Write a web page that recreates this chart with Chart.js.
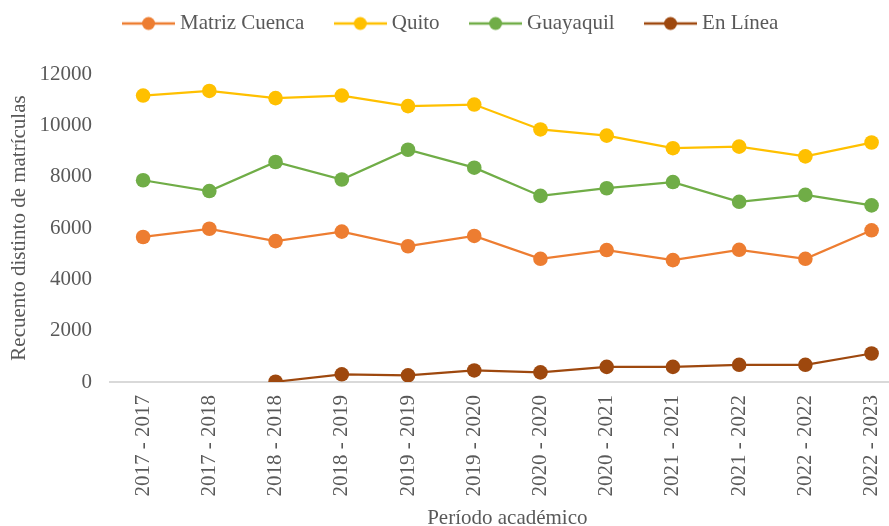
<!DOCTYPE html>
<html>
<head>
<meta charset="utf-8">
<script src="https://cdn.jsdelivr.net/npm/chart.js@4"></script>
<style>
  html, body { margin: 0; padding: 0; overflow: hidden; background: #fff; }
  #wrap { width: 912px; height: 526px; }
</style>
</head>
<body>
<div id="wrap"><canvas id="matriculasChart" width="912" height="526"></canvas></div>
<script>
// periodos academicos (eje x)
var periodos = ['2017 - 2017', '2017 - 2018', '2018 - 2018', '2018 - 2019', '2019 - 2019', '2019 - 2020',
                '2020 - 2020', '2020 - 2021', '2021 - 2021', '2021 - 2022', '2022 - 2022', '2022 - 2023'];

var matrizCuenca = [5650, 5970, 5490, 5860, 5290, 5690, 4800, 5140, 4750, 5150, 4800, 5910];
var quito        = [11160, 11340, 11060, 11160, 10750, 10810, 9840, 9600, 9110, 9170, 8790, 9330];
var guayaquil    = [7860, 7440, 8570, 7890, 9050, 8350, 7250, 7550, 7790, 7020, 7290, 6880];
var enLinea      = [null, null, 10, 300, 260, 450, 375, 590, 590, 670, 670, 1110];

var yTicks = [0, 2000, 4000, 6000, 8000, 10000, 12000];

var fuente = "'Liberation Serif', 'Times New Roman', serif";
var gris = '#595959';

// icono de leyenda: linea con circulo al centro
function iconoLeyenda(color) {
    var c = document.createElement('canvas');
    c.width = 53; c.height = 16;
    var g = c.getContext('2d');
    g.strokeStyle = color;
    g.lineWidth = 2.5;
    g.beginPath(); g.moveTo(0, 8); g.lineTo(53, 8); g.stroke();
    g.fillStyle = color;
    g.beginPath(); g.arc(26.5, 8, 6.5, 0, Math.PI * 2); g.fill();
    return c;
}

function serie(nombre, datos, color) {
    return {
        label: nombre,
        data: datos,
        borderColor: color,
        backgroundColor: color,
        borderWidth: 2.25,
        pointRadius: 7.3,
        pointHoverRadius: 7.3,
        pointBorderWidth: 0,
        pointStyle: 'circle',
        tension: 0,
        spanGaps: false
    };
}

// alto fijo para la leyenda, deja el espacio hasta el area del grafico
var altoLeyenda = {
    id: 'altoLeyenda',
    beforeInit: function(chart) {
        var fitOrig = chart.legend.fit;
        chart.legend.fit = function() {
            fitOrig.bind(chart.legend)();
            this.height = 96;
        };
    }
};

document.addEventListener('DOMContentLoaded', function() {
    var ctx = document.getElementById('matriculasChart').getContext('2d');
    var chart = new Chart(ctx, {
        type: 'line',
        data: {
            labels: periodos,
            datasets: [
                serie('Matriz Cuenca', matrizCuenca, '#ED7D31'),
                serie('Quito', quito, '#FFC000'),
                serie('Guayaquil', guayaquil, '#70AD47'),
                serie('En Línea', enLinea, '#9E480E')
            ]
        },
        plugins: [altoLeyenda],
        options: {
            responsive: false,
            animation: false,
            layout: { padding: { top: -22, right: 6, left: 0, bottom: 0 } },
            plugins: {
                legend: {
                    position: 'top',
                    labels: {
                        usePointStyle: true,
                        pointStyleWidth: 42,
                        color: gris,
                        font: { family: fuente, size: 21 },
                        padding: 35,
                        generateLabels: function(ch) {
                            return ch.data.datasets.map(function(ds, i) {
                                return {
                                    text: ds.label,
                                    fillStyle: ds.borderColor,
                                    strokeStyle: ds.borderColor,
                                    lineWidth: 0,
                                    pointStyle: iconoLeyenda(ds.borderColor),
                                    fontColor: gris,
                                    datasetIndex: i,
                                    hidden: false
                                };
                            });
                        }
                    }
                },
                tooltip: { enabled: false }
            },
            scales: {
                x: {
                    offset: true,
                    grid: { display: false, drawTicks: false },
                    border: { display: true, color: '#d9d9d9', width: 2 },
                    ticks: {
                        color: gris,
                        font: { family: fuente, size: 21 },
                        minRotation: 90,
                        maxRotation: 90,
                        padding: 13,
                        autoSkip: false
                    },
                    title: {
                        display: true,
                        text: 'Período académico',
                        color: gris,
                        font: { family: fuente, size: 21 },
                        padding: { top: 0, bottom: -5 }
                    },
                    afterFit: function(scale) { scale.height = 144; }
                },
                y: {
                    min: 0,
                    max: 12000,
                    grid: { display: false, drawTicks: false },
                    border: { display: false },
                    afterBuildTicks: function(scale) {
                        scale.ticks = yTicks.map(function(v) { return { value: v }; });
                    },
                    ticks: {
                        color: gris,
                        font: { family: fuente, size: 21 },
                        padding: 18,
                        callback: function(v) { return String(v); }
                    },
                    title: {
                        display: true,
                        text: 'Recuento distinto de matrículas',
                        color: gris,
                        font: { family: fuente, size: 21 },
                        padding: { top: 7, bottom: 3 }
                    },
                    afterFit: function(scale) { scale.width = 110; }
                }
            }
        }
    });
});
</script>
</body>
</html>
